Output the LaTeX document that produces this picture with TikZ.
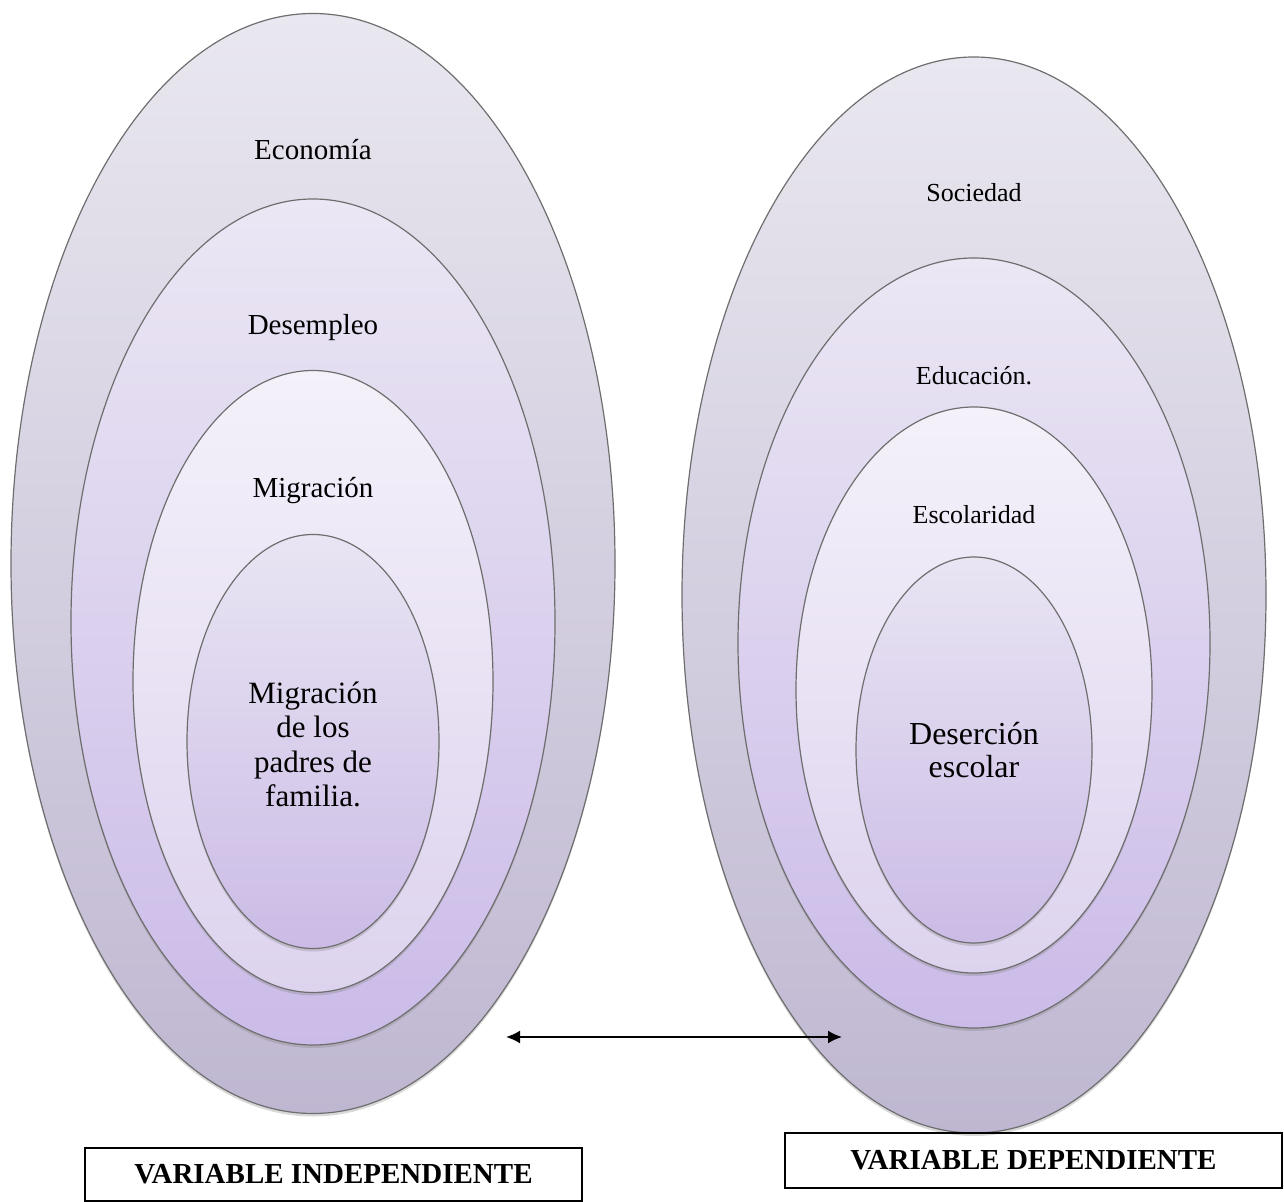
\documentclass[tikz,border=0pt]{standalone}
\usepackage{fontspec}
\setmainfont{Liberation Serif}
\usetikzlibrary{shapes.geometric,shadows,arrows.meta}

\definecolor{ringline}{HTML}{6E6E6E}
\definecolor{oneTop}{HTML}{E9E7EF}
\definecolor{oneBot}{HTML}{BFB7D1}
\definecolor{twoTop}{HTML}{EBE7F4}
\definecolor{twoBot}{HTML}{CBBBE8}
\definecolor{threeTop}{HTML}{F4F1FA}
\definecolor{threeBot}{HTML}{DDD3EE}
\definecolor{coreTop}{HTML}{E9E5F3}
\definecolor{coreBot}{HTML}{CBBBE6}

\tikzset{
	ring/.style={ellipse, draw=ringline, line width=0.6pt, inner sep=0pt, outer sep=0pt,
		drop shadow={shadow xshift=0pt, shadow yshift=-1.5pt, opacity=0.3}},
	lvlone/.style={ring, top color=oneTop, bottom color=oneBot},
	lvltwo/.style={ring, top color=twoTop, bottom color=twoBot},
	lvlthree/.style={ring, top color=threeTop, bottom color=threeBot},
	core/.style={ring, top color=coreTop, bottom color=coreBot},
	lbl/.style={align=center, inner sep=0pt, font=\fontsize{14.5pt}{17pt}\selectfont},
	varbox/.style={draw, line width=1pt, inner sep=0pt, minimum width=248.5pt,
		font=\bfseries\fontsize{14.5pt}{17pt}\selectfont}
}

\begin{document}
\begin{tikzpicture}[x=0.5pt, y=-0.5pt]
	\useasboundingbox (0,0) rectangle (1284,1202);

	%% INDEPENDIENTE (left)
	\node[lvlone, minimum width=302pt, minimum height=550pt](l_eco) at (313,563.5){};
	\node[lvltwo, minimum width=242pt, minimum height=423pt](l_desem) at (313,622){};
	\node[lvlthree, minimum width=180pt, minimum height=311pt](l_migr) at (313,681.5){};
	\node[core, minimum width=126pt, minimum height=207pt](l_padres) at (313,741.5){};

	\node[lbl, at={([yshift=-68pt]l_eco.north)}](t_eco){Econom\'ia};
	\node[lbl, at={([yshift=-64.5pt]l_desem.north)}](t_desem){Desempleo};
	\node[lbl, at={([yshift=-60pt]l_migr.north)}](t_migr){Migraci\'on};
	\node[lbl, font=\fontsize{15.5pt}{17.3pt}\selectfont, at={([yshift=-1.5pt]l_padres.center)}](t_padres)
		{Migraci\'on\\de los\\padres de\\familia.};

	%% DEPENDIENTE (right)
	\node[lvlone, minimum width=292pt, minimum height=538pt](r_soc) at (974,595){};
	\node[lvltwo, minimum width=236pt, minimum height=385pt](r_edu) at (974,643){};
	\node[lvlthree, minimum width=178pt, minimum height=283pt](r_esc) at (974,690){};
	\node[core, minimum width=118pt, minimum height=193pt](r_des) at (974,750){};

	\node[lbl, font=\fontsize{13pt}{15pt}\selectfont, at={([yshift=-68pt]r_soc.north)}](t_soc){Sociedad};
	\node[lbl, font=\fontsize{13pt}{15pt}\selectfont, at={([yshift=-59pt]r_edu.north)}](t_edu){Educaci\'on.};
	\node[lbl, font=\fontsize{13pt}{15pt}\selectfont, at={([yshift=-54pt]r_esc.north)}](t_esc){Escolaridad};
	\node[lbl, font=\fontsize{16pt}{16.5pt}\selectfont, at={(r_des.center)}](t_des){Deserci\'on\\escolar};

	%% relation
	\coordinate (rel_l) at (506,1037);
	\coordinate (rel_r) at (842,1037);
	\draw[{Latex[length=7pt,width=6.5pt]}-{Latex[length=7pt,width=6.5pt]}, line width=1pt] (rel_l) -- (rel_r);

	%% captions
	\node[varbox, minimum height=26.5pt](v_indep) at (333.5,1174.5){VARIABLE INDEPENDIENTE};
	\node[varbox, minimum height=27.5pt](v_dep) at (1033.5,1160.5){VARIABLE DEPENDIENTE};

\end{tikzpicture}
\end{document}
